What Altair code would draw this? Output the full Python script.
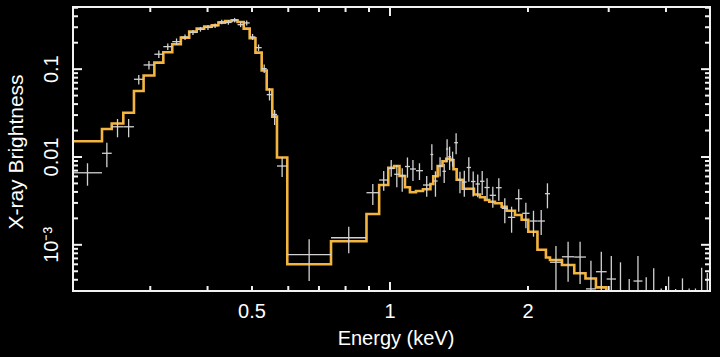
import altair as alt
import pandas as pd
import numpy as np

# ---- Model spectrum (step curve): bin edges in keV and level per bin ----
model_edges = [0.2035, 0.2354, 0.2472, 0.2620, 0.2764, 0.2901, 0.3062, 0.3203, 0.3350, 0.3498,
               0.3648, 0.3788, 0.3933, 0.4086, 0.4224, 0.4368, 0.4516, 0.4650, 0.4797, 0.4943,
               0.5088, 0.5250, 0.5384, 0.5537, 0.5669, 0.5970, 0.7437, 0.8887, 0.9471, 0.9915,
               1.0213, 1.0489, 1.0782, 1.1055, 1.1395, 1.1803, 1.2254, 1.2428, 1.2706, 1.3017,
               1.3266, 1.3535, 1.3755, 1.3979, 1.4407, 1.5247, 1.5717, 1.6117, 1.6469, 1.6943,
               1.7523, 1.7968, 1.8734, 1.9375, 2.0028, 2.0976, 2.1887, 2.2336, 2.3726, 2.5235,
               2.6699, 2.8139, 2.9632, 3.1739]
model_levels = [0.01510, 0.02084, 0.02407, 0.03187, 0.05644, 0.08476, 0.1186, 0.1558, 0.1921, 0.2284,
                0.2674, 0.2892, 0.3048, 0.3162, 0.3385, 0.3540, 0.3605, 0.3448, 0.2892, 0.2248,
                0.1541, 0.09665, 0.05871, 0.02877, 0.009869, 0.000601, 0.001096, 0.002243, 0.004799, 0.007551,
                0.007894, 0.006075, 0.004517, 0.003962, 0.004101, 0.004286, 0.004927, 0.006028, 0.007894, 0.008935,
                0.009563, 0.009171, 0.007244, 0.005513, 0.004355, 0.003740, 0.003475, 0.003237, 0.003097, 0.002970,
                0.002716, 0.002445, 0.002185, 0.001931, 0.001410, 0.000879, 0.000717, 0.000671, 0.000589, 0.000474,
                0.000413, 0.000328, 0.000240]

# ---- Observed data: contiguous bin edges (keV), value and error bounds ----
data_edges = [0.2035, 0.2354, 0.2472, 0.2620, 0.2764, 0.2901, 0.3062, 0.3203, 0.3350, 0.3498,
              0.3648, 0.3788, 0.3933, 0.4086, 0.4224, 0.4368, 0.4516, 0.4650, 0.4797, 0.4943,
              0.5088, 0.5250, 0.5384, 0.5537, 0.5669, 0.5970, 0.7437, 0.8887, 0.9471, 0.9915,
              1.0213, 1.0489, 1.0782, 1.1055, 1.1395, 1.1803, 1.2254, 1.2428, 1.2706, 1.3017,
              1.3246, 1.3400, 1.3585, 1.3811, 1.4071, 1.4356, 1.4699, 1.5020, 1.5363, 1.5714,
              1.6073, 1.6499, 1.7029, 1.7523, 1.8087, 1.8760, 1.9430, 2.0156, 2.0976, 2.1778,
              2.2335, 2.3722, 2.5231, 2.6760, 2.8138, 2.9694, 3.1117, 3.2555, 3.3975, 3.5546,
              3.6912, 3.8327, 3.9791, 4.1284, 4.2697, 4.4224, 4.5646, 4.7137, 4.8579, 4.9888]
data_val = [0.00661, 0.01102, 0.02207, 0.02207, 0.0767, 0.1116, 0.1478, 0.1805, 0.2056, 0.2314,
            0.2618, 0.2847, 0.2985, 0.3120, 0.3448, 0.3403, 0.3605, 0.3212, 0.3359, 0.2327,
            0.1757, 0.1013, 0.05123, 0.03048, 0.00789, 0.000775, 0.001204, 0.00392, 0.005467, 0.007394,
            0.006352, 0.006155, 0.007791, 0.007298, 0.00698, 0.004797, 0.01067, 0.005326, 0.007893, 0.006871,
            0.01233, 0.01008, 0.009412, 0.01455, 0.005467, 0.005188, 0.007593, 0.005257, 0.004926, 0.005285,
            0.004493, 0.003661, 0.00447, 0.002603, 0.002056, 0.00335, 0.002284, 0.001866, 0.001866, 0.003819,
            0.000633, 0.000731, 0.000726, 0.000315, 0.000494, 0.000408, 0.00022, 0.00022, 0.000387, 0.00022,
            0.00022, 0.00022, 0.00022, 0.00022, 0.00022, 0.00022, 0.00022, 0.00022, 0.00022]
data_hi = [0.00848, 0.01455, 0.02708, 0.02708, 0.08587, 0.1240, 0.1633, 0.1962, 0.2237, 0.2484,
           0.2795, 0.3023, 0.3187, 0.3315, 0.3653, 0.3615, 0.3829, 0.3430, 0.3586, 0.2517,
           0.1911, 0.1131, 0.06058, 0.03429, 0.009998, 0.001155, 0.001607, 0.004926, 0.006926, 0.009243,
           0.008101, 0.007433, 0.009867, 0.009243, 0.008478, 0.006074, 0.01395, 0.006871, 0.00992, 0.008323,
           0.0159, 0.0131, 0.01149, 0.01862, 0.0068, 0.00698, 0.00992, 0.006836, 0.006318, 0.006926,
           0.005719, 0.004588, 0.005719, 0.003384, 0.002715, 0.004285, 0.003016, 0.002445, 0.00249, 0.005016,
           0.000969, 0.001084, 0.001084, 0.000659, 0.000834, 0.000745, 0.000632, 0.000408, 0.000745, 0.000426,
           0.00054, 0.000319, 0.000435, 0.000314, 0.000415, 0.000318, 0.000318, 0.000548, 0.000477]
data_lo = [0.00471, 0.007633, 0.01676, 0.01676, 0.06694, 0.0992, 0.1341, 0.1655, 0.1886, 0.215,
           0.2452, 0.2674, 0.2795, 0.2946, 0.3246, 0.3204, 0.3403, 0.3007, 0.3145, 0.215,
           0.1612, 0.0905, 0.044, 0.02314, 0.005916, 0.000387, 0.0008, 0.002839, 0.00413, 0.005963,
           0.004516, 0.004024, 0.00581, 0.005326, 0.005467, 0.003529, 0.007109, 0.003529, 0.005995, 0.005053,
           0.00877, 0.007109, 0.007752, 0.01073, 0.003858, 0.003529, 0.005229, 0.003548, 0.003475, 0.00369,
           0.003297, 0.002644, 0.003178, 0.001757, 0.001373, 0.002381, 0.001541, 0.001237, 0.001293, 0.002603,
           0.000235, 0.00038, 0.000358, 0.000181, 0.000235, 0.000206, 0.00008, 0.00008, 0.000181, 0.00008,
           0.00008, 0.00008, 0.00008, 0.00008, 0.00008, 0.00008, 0.00008, 0.00008, 0.00008]

# ---- Axis ticks / labels ----
x_label_values = [0.5, 1, 2]
x_label_texts = ["0.5", "1", "2"]
x_major_ticks = [1]
x_minor_ticks = [0.3, 0.4, 0.5, 0.6, 0.7, 0.8, 0.9, 2, 3, 4]
y_label_values = [0.001, 0.01, 0.1]
y_label_texts = ["10\u207b\u00b3", "0.01", "0.1"]
y_major_ticks = [0.001, 0.01, 0.1]
y_minor_ticks = [4e-4, 5e-4, 6e-4, 7e-4, 8e-4, 9e-4,
                 0.002, 0.003, 0.004, 0.005, 0.006, 0.007, 0.008, 0.009,
                 0.02, 0.03, 0.04, 0.05, 0.06, 0.07, 0.08, 0.09,
                 0.2, 0.3, 0.4, 0.5]
x_title = ["Energy (keV)"]
y_title = ["X-ray Brightness"]

W, H = 637, 284
FONT = "Liberation Sans"
x_domain = [0.2035, 4.99]
y_domain = [2.98e-4, 0.51]
MINOR_LEN, MAJOR_LEN = 5, 9   # tick lengths in pixels
HALF = 1.0                    # half line thickness in pixels
FRAME = "#f2f2f2"
TEXT = "#ffffff"

xs = alt.Scale(type="log", domain=x_domain, nice=False)
ys = alt.Scale(type="log", domain=y_domain, nice=False)


def X(field):
    return alt.X(field, type="quantitative", scale=xs, axis=None)


def Y(field):
    return alt.Y(field, type="quantitative", scale=ys, axis=None)


# pixel length -> multiplicative step along each log axis
x_px_per_dec = W / np.log10(x_domain[1] / x_domain[0])
y_px_per_dec = H / np.log10(y_domain[1] / y_domain[0])
def xstep(px): return 10 ** (px / x_px_per_dec)
def ystep(px): return 10 ** (px / y_px_per_dec)


model_df = pd.DataFrame({"energy": model_edges,
                         "flux": model_levels + [model_levels[-1]]})
lo = np.array(data_edges[:-1])
hi = np.array(data_edges[1:])
data_df = pd.DataFrame({"e_lo": lo, "e_hi": hi, "e_mid": np.sqrt(lo * hi),
                        "val": data_val, "y_lo": data_lo, "y_hi": data_hi})

# ---- Frame and inward ticks drawn as thin filled rectangles ----
x0, x1 = x_domain
y0, y1 = y_domain
rect_rows = [
    # frame: left, right, bottom, top
    {"a": x0 / xstep(HALF), "b": x0 * xstep(HALF), "c": y0 / ystep(HALF), "d": y1 * ystep(HALF)},
    {"a": x1 / xstep(HALF), "b": x1 * xstep(HALF), "c": y0 / ystep(HALF), "d": y1 * ystep(HALF)},
    {"a": x0 / xstep(HALF), "b": x1 * xstep(HALF), "c": y0 / ystep(HALF), "d": y0 * ystep(HALF)},
    {"a": x0 / xstep(HALF), "b": x1 * xstep(HALF), "c": y1 / ystep(HALF), "d": y1 * ystep(HALF)},
]
for vals, ln in ((x_minor_ticks, MINOR_LEN), (x_major_ticks, MAJOR_LEN)):
    for v in vals:
        rect_rows.append({"a": v / xstep(HALF), "b": v * xstep(HALF), "c": y0, "d": y0 * ystep(ln)})
        rect_rows.append({"a": v / xstep(HALF), "b": v * xstep(HALF), "c": y1 / ystep(ln), "d": y1})
for vals, ln in ((y_minor_ticks, MINOR_LEN), (y_major_ticks, MAJOR_LEN)):
    for v in vals:
        rect_rows.append({"a": x0, "b": x0 * xstep(ln), "c": v / ystep(HALF), "d": v * ystep(HALF)})
        rect_rows.append({"a": x1 / xstep(ln), "b": x1, "c": v / ystep(HALF), "d": v * ystep(HALF)})
frame_ticks = alt.Chart(pd.DataFrame(rect_rows)).mark_rect(color=FRAME, opacity=1).encode(
    x=X("a"), x2="b", y=Y("c"), y2="d")

model = alt.Chart(model_df).mark_line(interpolate="step-after", color="#f3b53f",
                                      strokeWidth=2.6, clip=True).encode(
    x=X("energy"), y=Y("flux"))

dcol = "#d2d2d2"
hbar = alt.Chart(data_df).mark_rule(color=dcol, strokeWidth=1.3, clip=True).encode(
    x=X("e_lo"), x2="e_hi", y=Y("val"))
vbar = alt.Chart(data_df).mark_rule(color=dcol, strokeWidth=1.3, clip=True).encode(
    x=X("e_mid"), y=Y("y_lo"), y2="y_hi")

# ---- Tick labels and titles as text ----
xlab = alt.Chart(pd.DataFrame({"v": x_label_values, "t": x_label_texts})).mark_text(
    font=FONT, fontSize=20, color=TEXT, align="center", baseline="alphabetic").encode(
    x=X("v"), y=alt.value(H + 27), text="t:N")
ylab = alt.Chart(pd.DataFrame({"v": y_label_values, "t": y_label_texts})).mark_text(
    font=FONT, fontSize=20, color=TEXT, align="center", baseline="alphabetic", angle=270).encode(
    y=Y("v"), x=alt.value(-15), text="t:N")
xtitle = alt.Chart(pd.DataFrame({"t": x_title})).mark_text(
    font=FONT, fontSize=20, color=TEXT, align="center", baseline="alphabetic").encode(
    x=alt.value(323), y=alt.value(H + 54), text="t:N")
ytitle = alt.Chart(pd.DataFrame({"t": y_title})).mark_text(
    font=FONT, fontSize=21, color=TEXT, align="center", baseline="alphabetic", angle=270).encode(
    x=alt.value(-50), y=alt.value(145), text="t:N")

layers = [model, hbar, vbar, frame_ticks, xlab, ylab, xtitle, ytitle]

chart = alt.layer(*layers).properties(
    width=W, height=H,
    autosize=alt.AutoSizeParams(type="none"),
    padding={"left": 73, "top": 7, "right": 10, "bottom": 66},
    background="black",
).configure_view(stroke=FRAME, strokeWidth=2)

chart.save("out.html", embed_options={"renderer": "svg", "actions": False})
